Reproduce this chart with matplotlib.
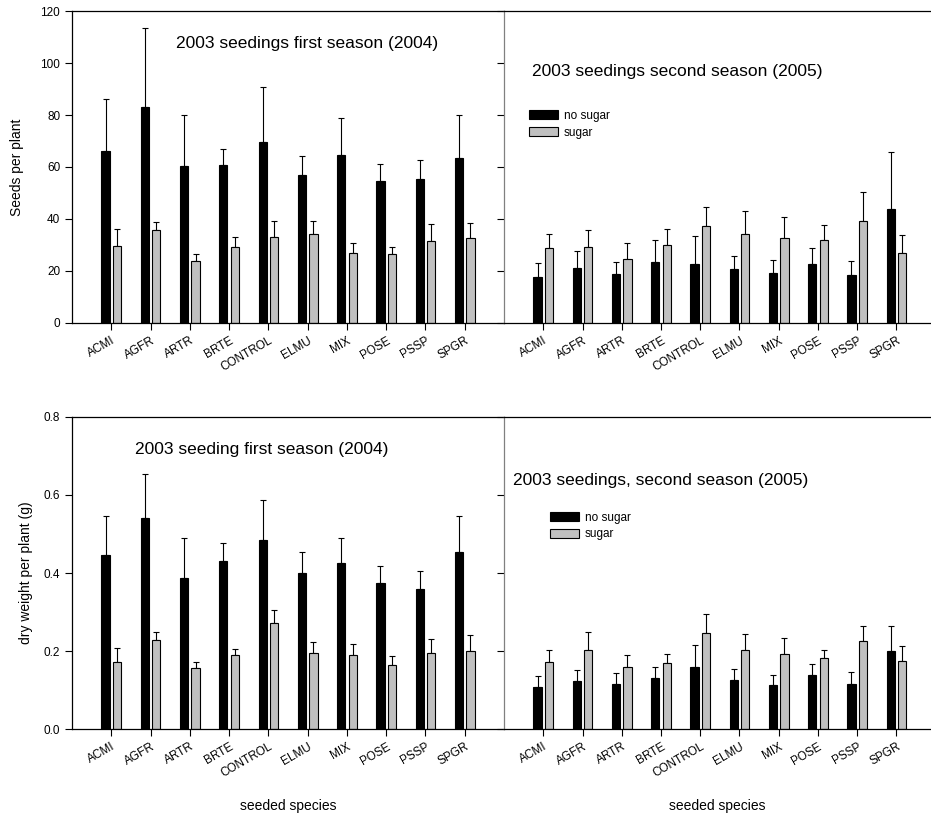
import matplotlib
matplotlib.use("Agg")
import matplotlib.pyplot as plt
import numpy as np

plt.rcParams['font.family'] = ['Liberation Sans', 'DejaVu Sans']

species = ["ACMI", "AGFR", "ARTR", "BRTE", "CONTROL", "ELMU", "MIX", "POSE", "PSSP", "SPGR"]

# seeds per plant, first season (2004)
seeds04_nosug = [66.2, 82.9, 60.4, 60.8, 69.5, 57.0, 64.8, 54.6, 55.5, 63.5]
seeds04_nosug_top = [86.3, 113.5, 79.9, 66.8, 90.8, 64.2, 78.9, 61.3, 62.7, 79.9]
seeds04_sug = [29.7, 35.7, 23.8, 29.4, 33.1, 34.4, 27.0, 26.6, 31.5, 32.6]
seeds04_sug_top = [36.1, 38.8, 26.6, 32.9, 39.1, 39.1, 30.6, 29.3, 37.9, 38.5]

# seeds per plant, second season (2005)
seeds05_nosug = [17.7, 21.2, 18.8, 23.3, 22.5, 20.8, 19.3, 22.5, 18.4, 43.8]
seeds05_nosug_top = [22.9, 27.8, 23.6, 32.1, 33.3, 25.6, 24.2, 28.7, 24.0, 65.7]
seeds05_sug = [28.7, 29.4, 24.5, 30.1, 37.3, 34.4, 32.8, 32.1, 39.4, 27.1]
seeds05_sug_top = [34.4, 35.6, 30.6, 36.0, 44.8, 43.2, 40.6, 37.6, 50.4, 33.7]

# dry weight per plant (g), first season (2004)
dw04_nosug = [0.446, 0.541, 0.388, 0.430, 0.485, 0.401, 0.425, 0.375, 0.360, 0.455]
dw04_nosug_top = [0.547, 0.655, 0.491, 0.477, 0.586, 0.455, 0.489, 0.419, 0.405, 0.547]
dw04_sug = [0.171, 0.228, 0.156, 0.189, 0.271, 0.195, 0.189, 0.163, 0.196, 0.200]
dw04_sug_top = [0.207, 0.248, 0.173, 0.206, 0.305, 0.223, 0.218, 0.186, 0.230, 0.240]

# dry weight per plant (g), second season (2005)
dw05_nosug = [0.108, 0.123, 0.116, 0.132, 0.160, 0.125, 0.113, 0.138, 0.116, 0.199]
dw05_nosug_top = [0.135, 0.151, 0.143, 0.158, 0.215, 0.153, 0.138, 0.166, 0.145, 0.264]
dw05_sug = [0.173, 0.202, 0.159, 0.169, 0.247, 0.203, 0.192, 0.181, 0.225, 0.174]
dw05_sug_top = [0.202, 0.249, 0.191, 0.193, 0.295, 0.243, 0.233, 0.202, 0.265, 0.212]

fig = plt.figure(figsize=(9.31, 8.17), dpi=100)

x = np.arange(len(species))
w = 0.21
off = 0.146


def panel(ax, nosug, nosug_top, sug, sug_top, ylim, yticks, left):
    ax.bar(x - off, nosug, w, color="black", edgecolor="black", linewidth=0.8,
           label="no sugar", zorder=2)
    ax.bar(x + off, sug, w, color="#c0c0c0", edgecolor="black", linewidth=0.8,
           label="sugar", zorder=2)
    err1 = np.array(nosug_top) - np.array(nosug)
    err2 = np.array(sug_top) - np.array(sug)
    ax.errorbar(x - off, nosug, yerr=[np.zeros(len(x)), err1], fmt="none",
                ecolor="black", elinewidth=0.8, capsize=2.4, capthick=0.8, zorder=1)
    ax.errorbar(x + off, sug, yerr=[np.zeros(len(x)), err2], fmt="none",
                ecolor="black", elinewidth=0.8, capsize=2.4, capthick=0.8, zorder=1)
    ax.set_ylim(*ylim)
    ax.set_yticks(yticks)
    ax.set_xticks(x)
    ax.set_xticklabels(species, rotation=30, ha="right", rotation_mode="anchor",
                       fontsize=8.5)
    ax.spines["right"].set_visible(False)
    for s in ["top", "bottom", "left"]:
        ax.spines[s].set_linewidth(0.9)
    ax.tick_params(direction="out", length=5, width=0.8, labelsize=8.5)
    if not left:
        ax.spines["left"].set_color("#808080")
        ax.set_yticklabels([])


ax1 = fig.add_axes([0.0773, 0.6047, 0.4641, 0.3818])
ax2 = fig.add_axes([0.5414, 0.6047, 0.4586, 0.3818])
ax3 = fig.add_axes([0.0773, 0.1077, 0.4641, 0.3819])
ax4 = fig.add_axes([0.5414, 0.1077, 0.4586, 0.3819])

panel(ax1, seeds04_nosug, seeds04_nosug_top, seeds04_sug, seeds04_sug_top,
      (0, 120), [0, 20, 40, 60, 80, 100, 120], True)
panel(ax2, seeds05_nosug, seeds05_nosug_top, seeds05_sug, seeds05_sug_top,
      (0, 120), [0, 20, 40, 60, 80, 100, 120], False)
panel(ax3, dw04_nosug, dw04_nosug_top, dw04_sug, dw04_sug_top,
      (0, 0.8), [0.0, 0.2, 0.4, 0.6, 0.8], True)
panel(ax4, dw05_nosug, dw05_nosug_top, dw05_sug, dw05_sug_top,
      (0, 0.8), [0.0, 0.2, 0.4, 0.6, 0.8], False)

ax1.set_yticklabels(["0", "20", "40", "60", "80", "100", "120"])
ax3.set_yticklabels(["0.0", "0.2", "0.4", "0.6", "0.8"])

ax1.set_xlim(-1, 10)
ax3.set_xlim(-1, 10)
ax2.set_xlim(-1, 9.88)
ax4.set_xlim(-1, 9.88)

ax1.set_ylabel("Seeds per plant", fontsize=10, labelpad=12)
ax3.set_ylabel("dry weight per plant (g)", fontsize=10, labelpad=8)
ax3.set_xlabel("seeded species", fontsize=10, labelpad=14)
ax4.set_xlabel("seeded species", fontsize=10, labelpad=14)

ax1.text(0.24, 0.895, "2003 seedings first season (2004)", transform=ax1.transAxes,
         fontsize=12.5, va="center")
ax2.text(0.065, 0.805, "2003 seedings second season (2005)", transform=ax2.transAxes,
         fontsize=12.5, va="center")
ax3.text(0.145, 0.895, "2003 seeding first season (2004)", transform=ax3.transAxes,
         fontsize=12.5, va="center")
ax4.text(0.02, 0.795, "2003 seedings, second season (2005)", transform=ax4.transAxes,
         fontsize=12.5, va="center")

ax2.legend(loc="upper left", bbox_to_anchor=(0.048, 0.698), frameon=False,
           fontsize=8.5, handlelength=2.45, handleheight=0.8, handletextpad=0.5,
           labelspacing=0.4, borderaxespad=0)
ax4.legend(loc="upper left", bbox_to_anchor=(0.096, 0.712), frameon=False,
           fontsize=8.5, handlelength=2.45, handleheight=0.8, handletextpad=0.5,
           labelspacing=0.4, borderaxespad=0)

fig.savefig("out.png", dpi=100)
